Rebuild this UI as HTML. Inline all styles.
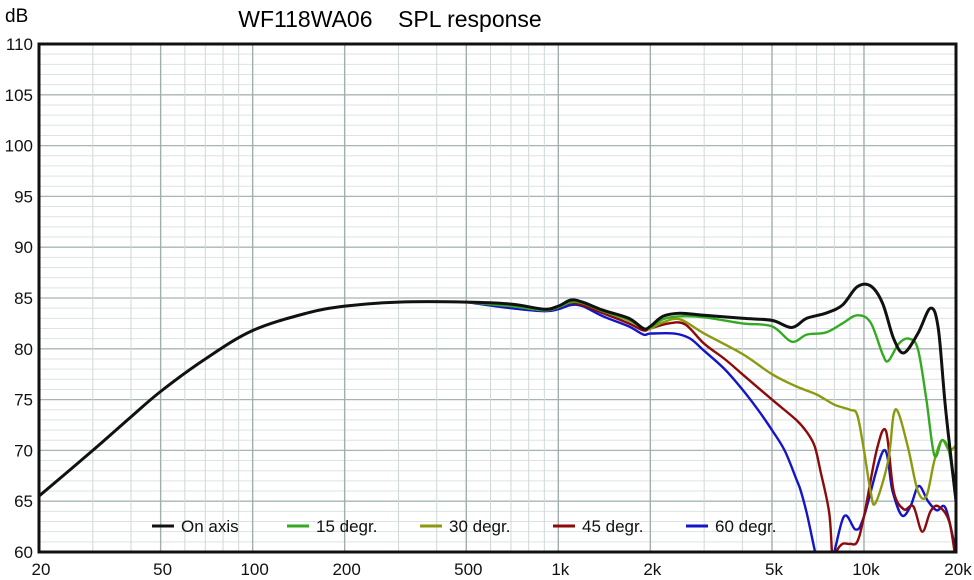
<!DOCTYPE html>
<html><head><meta charset="utf-8"><style>
html,body{margin:0;padding:0;background:#fff;}
svg{display:block;font-family:"Liberation Sans",Arial,sans-serif;}
</style></head><body>
<svg id="chart" width="974" height="580">
<rect width="974" height="580" fill="#fff"/>
<text x="5" y="22" font-size="19">dB</text>
<text x="390" y="27" font-size="23" text-anchor="middle" xml:space="preserve">WF118WA06    SPL response</text>
<g id="grid"></g>
<g id="yticks"></g>
<g id="xticks"></g>
<defs><clipPath id="pc"><rect x="39" y="44" width="917" height="508"/></clipPath></defs>
<g id="series" clip-path="url(#pc)"></g>
<rect x="39" y="44" width="917" height="508" fill="none" stroke="#111" stroke-width="3"/>
<g id="legend"></g>
</svg>
<script>
const xTickVals=[20,50,100,200,500,1000,2000,5000,10000,20000];
const xTickLabels=["20","50","100","200","500","1k","2k","5k","10k","20k"];
const yTickVals=[60,65,70,75,80,85,90,95,100,105,110];
const seriesNames=["On axis","15 degr.","30 degr.","45 degr.","60 degr."];
const seriesColors=["#111111","#33aa22","#8c9a10","#8b0a0a","#1414c8"];
const freqOn=[20,30,40,50,70,100,150,200,300,500,700,900,1000,1100,1200,1400,1700,1900,2000,2200,2500,3000,4000,5000,5800,6500,7500,8500,9500,10500,11500,12500,13500,15000,16500,17500,18500,20000];
const dbOn=[65.5,70,73.3,75.8,79,81.8,83.5,84.2,84.6,84.6,84.4,83.9,84.2,84.8,84.6,83.8,83,82,82.2,83.2,83.5,83.3,83,82.8,82.1,83,83.5,84.3,86.1,86.2,84.5,81,79.6,81.5,84,82,74,65];
const freq15=[500,700,900,1000,1100,1200,1400,1700,1900,2000,2200,2500,3000,4000,5000,5800,6500,7500,8500,9500,10500,11500,12000,13000,14000,15000,16000,17000,18000,19000,20000];
const db15=[84.6,84.2,83.8,84.1,84.6,84.5,83.7,82.9,82,82.1,82.9,83.2,83.1,82.5,82.2,80.7,81.4,81.6,82.5,83.3,82.6,79.5,78.8,80.5,81,80,75,69.5,71,69.8,65];
const freq30=[500,700,900,1000,1100,1200,1400,1700,1900,2000,2200,2500,3000,4000,5000,6000,7000,8000,9000,9500,10000,10500,10900,12000,12500,13000,14000,15000,16000,17000,18000,19000,20000];
const db30=[84.6,84.2,83.8,84.1,84.6,84.5,83.7,82.8,82,82,82.6,82.9,81.5,79.5,77.5,76.3,75.5,74.5,74,73.5,70,66,64.8,69,73.5,73.6,70,66,65.5,69,71,70,70.5];
const freq45=[500,700,900,1000,1100,1200,1400,1700,1900,2000,2300,2600,3000,3500,4000,5000,6000,6500,6900,7200,7700,7900,8100,8500,9000,9500,10000,11000,11800,12500,13500,14500,15500,16500,17500,19000,20000];
const db45=[84.6,84.2,83.9,84.2,84.5,84.3,83.5,82.5,81.8,82,82.5,82.4,80.5,79,77.5,75,73,71.8,70.4,68,63.8,59,60,60.8,60.8,61,63.5,70,71.9,66,64.2,64.5,62,64,64.5,63,59];
const freq60=[500,700,900,1000,1100,1200,1400,1700,1900,2000,2400,2700,3000,3500,4000,4500,5000,5500,6000,6200,6500,6900,7100,7800,8600,9400,10000,11600,12400,13300,14200,15100,16200,17300,18500,20000];
const db60=[84.6,84,83.7,83.9,84.3,84.2,83.2,82.2,81.4,81.5,81.5,81,79.8,78,76,74,72,70,67.2,66.1,63.8,60.2,59,59,63.5,62.2,63.5,70,66,63.6,64.5,66.5,65,64.1,64.3,60];
const freqs=[freqOn,freq15,freq30,freq45,freq60];
const dbs=[dbOn,db15,db30,db45,db60];

const L=39,R=956,T=44,B=552;
const X=f=>L+(Math.log10(f)-Math.log10(20))/3*(R-L);
const Y=d=>T+(110-d)/50*(B-T);
const NS="http://www.w3.org/2000/svg";
function mk(tag,attrs,parent){const e=document.createElementNS(NS,tag);for(const k in attrs)e.setAttribute(k,attrs[k]);parent.appendChild(e);return e;}
function smoothPath(P){
  let d='M'+P[0][0].toFixed(1)+','+P[0][1].toFixed(1);
  for(let i=0;i<P.length-1;i++){
    const p0=P[i-1]||P[i],p1=P[i],p2=P[i+1],p3=P[i+2]||P[i+1];
    const c1=[p1[0]+(p2[0]-p0[0])/6,p1[1]+(p2[1]-p0[1])/6];
    const c2=[p2[0]-(p3[0]-p1[0])/6,p2[1]-(p3[1]-p1[1])/6];
    d+=' C'+c1.map(v=>v.toFixed(1)).join(',')+' '+c2.map(v=>v.toFixed(1)).join(',')+' '+p2.map(v=>v.toFixed(1)).join(',');
  }
  return d;
}
const grid=document.getElementById('grid');
for(let d=60;d<=110;d++){
  const l=mk('line',{x1:L,x2:R,y1:Y(d),y2:Y(d),stroke:d%5===0?'#a8b4b4':'#dde3e3','stroke-width':d%5===0?1.3:1},grid);
  
  
}
for(let dec=10;dec<=10000;dec*=10){
  for(let m=1;m<10;m++){
    const f=dec*m; if(f<20||f>20000)continue;
    const major=(m===1||m===2||m===5);
    const l=mk('line',{x1:X(f),x2:X(f),y1:T,y2:B,stroke:major?'#a0aeae':'#cfd8d8','stroke-width':major?1.4:1},grid);
    
    
  }
}
const yt=document.getElementById('yticks');
yTickVals.forEach(v=>{
  const t=mk('text',{x:33,y:Y(v)+6,'font-size':17,'text-anchor':'end',fill:'#111'},yt);
  t.textContent=v;
  
  
});
const xt=document.getElementById('xticks');
xTickVals.forEach((v,i)=>{
  const t=mk('text',{x:X(v)+2,y:575,'font-size':17,'text-anchor':'middle',fill:'#111'},xt);
  t.textContent=xTickLabels[i];
  
  
});
const sg=document.getElementById('series');
for(let s=4;s>=0;s--){
  const P=freqs[s].map((f,i)=>[X(f),Y(dbs[s][i])]);
  const p=mk('path',{d:smoothPath(P),fill:'none',stroke:seriesColors[s],'stroke-width':s===0?3:2.4,'stroke-linejoin':'round'},sg);
  
  
}
const lg=document.getElementById('legend');
const lx=[152,287,420,553,686];
seriesNames.forEach((n,i)=>{
  const g=mk('g',{},lg);
  
  
  mk('line',{x1:lx[i],x2:lx[i]+22,y1:526,y2:526,stroke:seriesColors[i],'stroke-width':3},g);
  const t=mk('text',{x:lx[i]+29,y:532,'font-size':17,fill:'#111'},g);
  t.textContent=n;
});
</script>
</body></html>
